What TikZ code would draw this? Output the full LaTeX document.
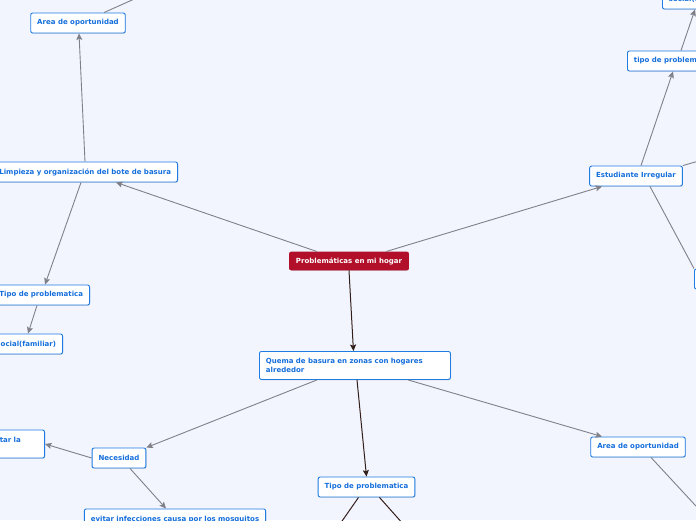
\documentclass[tikz,border=0pt]{standalone}
\usepackage{fontspec}
\setmainfont{DejaVu Sans}
\usetikzlibrary{arrows.meta,shadows}
\definecolor{bgblue}{RGB}{242,245,254}
\definecolor{boxblue}{RGB}{30,124,226}
\definecolor{txtblue}{RGB}{20,110,220}
\definecolor{rootred}{RGB}{178,16,42}
\definecolor{linkgray}{RGB}{128,128,136}
\definecolor{darklink}{RGB}{52,30,26}
\tikzset{
  box/.style={draw=boxblue, line width=0.9pt, fill=white, rounded corners=2pt,
    font=\bfseries\fontsize{7}{8.5}\selectfont, text=txtblue,
    minimum height=20pt, inner xsep=6.5pt, inner ysep=2pt,
    drop shadow={shadow xshift=0.6pt, shadow yshift=-0.8pt, opacity=0.25}},
  twoline/.style={box, align=left, minimum height=28pt},
  rootbox/.style={box, draw=rootred, fill=rootred, text=white, minimum height=18pt},
  link/.style={draw=linkgray, line width=0.9pt, -{Stealth[length=6.5pt,width=6pt,inset=1.2pt]}},
  plain/.style={draw=linkgray, line width=0.9pt},
  dark/.style={draw=darklink, line width=1pt, -{Stealth[length=6.5pt,width=6pt,inset=1.2pt]}},
  darkplain/.style={draw=darklink, line width=1pt}
}
\begin{document}
\begin{tikzpicture}[x=1pt,y=-1pt]
  \fill[bgblue] (0,0) rectangle (696,520);
  \useasboundingbox (0,0) rectangle (696,520);
  % nodes
  \node[rootbox] (root) at (349,261) {Problemáticas en mi hogar};
  \node[box] (area1) at (78,23) {Area de oportunidad};
  \node[box, anchor=east] (limp) at (178,172) {Limpieza y organización del bote de basura};
  \node[box, anchor=east] (tipo1) at (90,295) {Tipo de problematica};
  \node[box, anchor=east] (soc1) at (63,344) {Social(familiar)};
  \node[box] (est) at (636,176) {Estudiante Irregular};
  \node[box, anchor=west] (tipo2) at (627,61) {tipo de problematica};
  \node[box, anchor=west] (soc2) at (662,-1) {social(familiar)};
  \node[box, anchor=west, minimum width=60pt] (side) at (694,279) {};
  \node[twoline, anchor=north west, text width=178pt] (quema) at (259,351) {Quema de basura en zonas con hogares\\alrededor};
  \node[box] (nec) at (119,458) {Necesidad};
  \node[twoline, anchor=east, text width=50pt] (evit) at (45,444) {Evitar la\\\mbox{}};
  \node[twoline, anchor=north] (infec) at (175,508.5) {evitar infecciones causa por los mosquitos\\\mbox{}};
  \node[box] (tipo3) at (366.5,487) {Tipo de problematica};
  \node[box] (area2) at (638,447) {Area de oportunidad};
  % free ends
  \coordinate (c1) at (150,-8);
  \coordinate (c2) at (720,155);
  \coordinate (c3) at (720,532);
  \coordinate (c4) at (333,534);
  \coordinate (c5) at (412,534);
  % links
  \draw[link] ([xshift=-32pt]root.north) -- ([xshift=-62pt]limp.south east);
  \draw[link] ([xshift=-93pt]limp.north east) -- ([xshift=1pt]area1.south);
  \draw[plain] ([xshift=26pt]area1.north) -- (c1);
  \draw[link] ([xshift=-97pt]limp.south east) -- ([xshift=-45pt]tipo1.north east);
  \draw[link] ([xshift=-53pt]tipo1.south east) -- ([xshift=-35pt]soc1.north east);
  \draw[link] ([xshift=37pt]root.north) -- ([xshift=-34pt]est.south);
  \draw[link] ([xshift=5pt]est.north) -- ([xshift=46pt]tipo2.south west);
  \draw[link] ([xshift=54pt]tipo2.north west) -- ([xshift=33pt]soc2.south west);
  \draw[plain] (est.north east) -- (c2);
  \draw[plain] ([xshift=14pt]est.south) -- (side.north west);
  \draw[dark] (root.south) -- ([xshift=-1.5pt]quema.north);
  \draw[link] ([xshift=58pt]quema.south west) -- (nec.north east);
  \draw[link] (nec.west) -- (evit.east);
  \draw[link] ([xshift=11pt]nec.south) -- ([xshift=-9pt]infec.north);
  \draw[dark] ([xshift=98pt]quema.south west) -- (tipo3.north);
  \draw[link] ([xshift=149pt]quema.south west) -- ([xshift=-36pt]area2.north);
  \draw[plain] ([xshift=13pt]area2.south) -- (c3);
  \draw[darkplain] ([xshift=-8pt]tipo3.south) -- (c4);
  \draw[darkplain] ([xshift=13pt]tipo3.south) -- (c5);
\end{tikzpicture}
\end{document}
